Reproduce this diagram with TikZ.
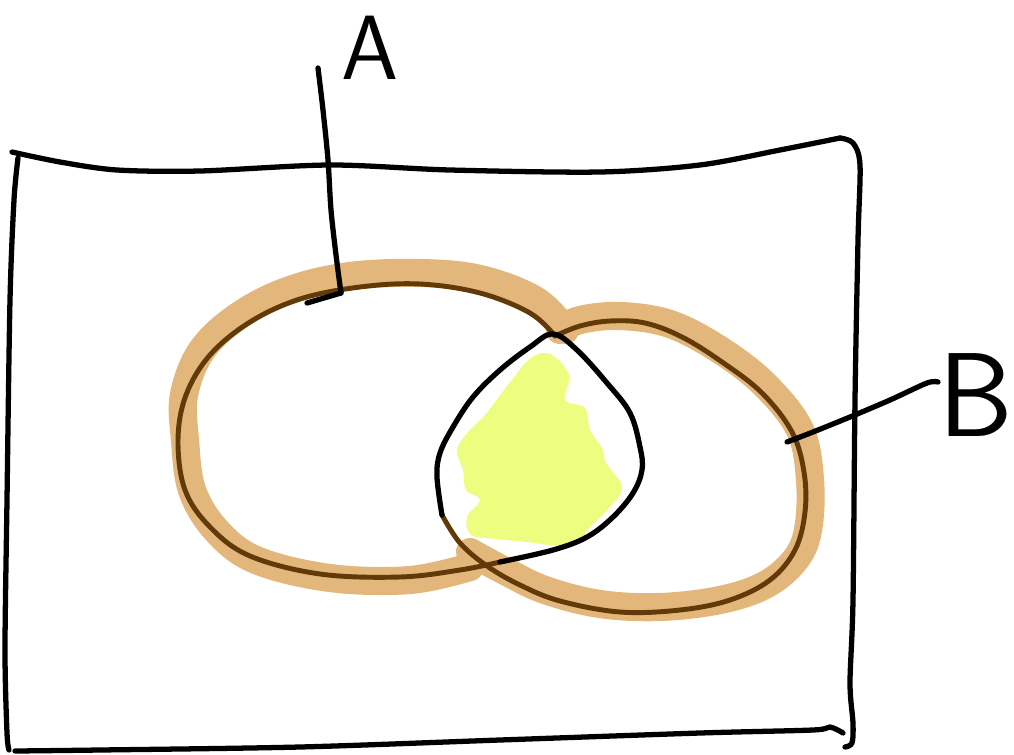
\documentclass[tikz,border=0pt]{standalone}
\usepackage{tikz}
\usetikzlibrary{positioning}
\definecolor{band}{RGB}{227,183,123}
\definecolor{rim}{RGB}{98,58,8}
\definecolor{lemon}{RGB}{237,253,128}

\begin{document}
\begin{tikzpicture}[
  x=0.02cm, y=-0.02cm,
  pen/.style={line width=3pt,line cap=round,line join=round,draw=black},
  marker/.style={line width=16pt,line cap=round,line join=round,draw=band},
  edge/.style={line width=2.8pt,line cap=round,line join=round,draw=rim},
  letter/.style={font=\sffamily\fontsize{#1}{#1}\selectfont,inner sep=0pt}]

\useasboundingbox (0,0) rectangle (1014,754);

% frame
\draw[pen] plot[smooth,tension=0.5] coordinates {(12,152) (60,162) (117,170)
  (200,171) (330,165) (450,170) (600,172) (700,165) (780,150) (840,138)};
\draw[pen] plot[smooth,tension=0.5] coordinates {(840,138) (853,143) (860,165)
  (858,240) (855,400) (853,600) (850,683) (853,723) (852,743) (845,747)};
\draw[pen] plot[smooth,tension=0.5] coordinates {(18,158) (14,200) (10,300)
  (7,500) (5,650) (7,733) (9,750)};
\draw[pen] plot[smooth,tension=0.5] coordinates {(15,751) (100,750) (300,747)
  (500,740) (700,733) (813,730) (830,727) (843,733)};

% highlighter bands
\draw[marker] plot[smooth,tension=0.6] coordinates {(565,330) (535,300)
  (480,279) (420,273) (350,276) (290,290) (240,315) (202,350) (184,395)
  (185,440) (192,490) (216,530) (256,560) (330,578) (410,580) (470,567)};
\draw[marker] plot[smooth,tension=0.6] coordinates {(560,330) (580,320)
  (620,316) (670,324) (720,350) (765,385) (800,430) (810,480) (808,530)
  (795,560) (765,585) (720,600) (660,607) (600,604) (545,590) (505,571)
  (470,552)};

% shaded intersection
\fill[lemon] plot[smooth cycle,tension=0.6] coordinates {(550,354) (569,375)
  (565,400) (585,408) (590,430) (602,448) (606,463) (622,487) (609,508)
  (589,528) (578,542) (553,545) (527,542) (497,539) (471,535) (467,517)
  (480,500) (466,490) (463,470) (457,450) (468,432) (485,415) (511,381)
  (531,358)};

% outlines of A and B
\draw[edge] plot[smooth,tension=0.6] coordinates {(555,336) (530,313)
  (480,293) (420,284) (360,287) (300,299) (250,322) (210,355) (186,395)
  (178,440) (185,490) (210,527) (250,556) (320,574) (400,577) (460,570)
  (500,562)};
\draw[edge] plot[smooth,tension=0.6] coordinates {(555,336) (580,326)
  (610,321) (645,323) (682,337) (722,362) (762,393) (792,432) (804,472)
  (805,512) (795,550) (770,580) (730,600) (680,610) (620,612) (560,601)
  (520,585) (487,566) (460,543) (442,515)};

% overlap outline
\draw[pen] plot[smooth,tension=0.6] coordinates {(442,515) (437,477)
  (440,453) (453,427) (473,397) (500,370) (530,347) (553,334) (577,350)
  (607,383) (630,413) (640,447) (642,470) (633,493) (613,517) (587,537)
  (553,550) (500,562)};

% labels
\node[letter=52] (labA) at (370,48) {A};
\node[letter=68] (labB) at (976,395) {B};

\draw[pen] plot[smooth,tension=0.5] coordinates {(318,68) (323,110)
  (328,160) (331,210) (336,255) (341,293)};
\draw[pen] (307,303) -- (341,293);
\draw[pen] plot[smooth,tension=0.5] coordinates {(787,442) (813,432)
  (850,417) (890,400) (927,383) (938,382)};
\end{tikzpicture}
\end{document}
